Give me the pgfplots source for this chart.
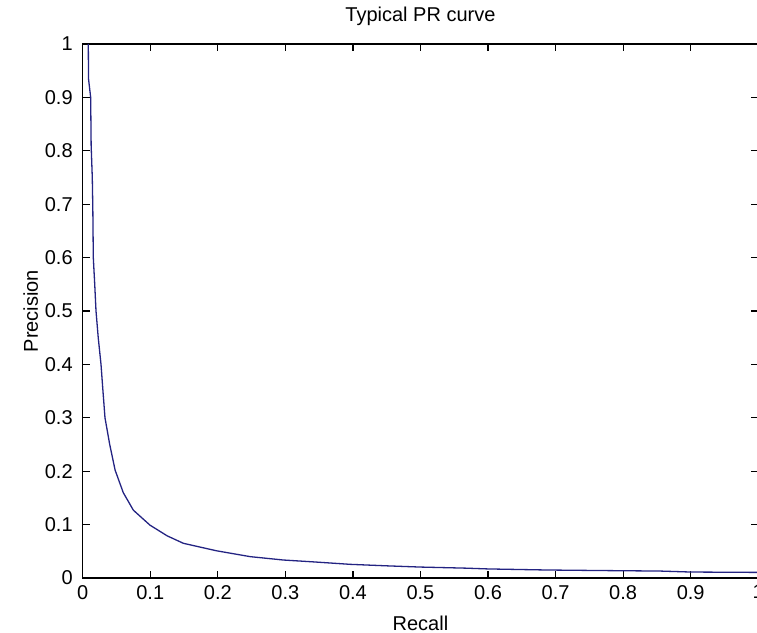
\documentclass[border=0pt]{standalone}
\usepackage{fontspec}
\setmainfont{Liberation Sans}
\usepackage{pgfplots}
\pgfplotsset{compat=1.18}
\usetikzlibrary{calc}
\definecolor{curveblue}{RGB}{35,35,130}
\begin{document}
\fontsize{10}{12}\selectfont
\begin{tikzpicture}
\begin{axis}[
  name=main,
  scale only axis,
  width=337.75pt, height=267pt,
  xmin=0, xmax=1, ymin=0, ymax=1,
  xtick={0,0.1,...,1.0}, ytick={0,0.1,...,1.0},
  tick align=inside,
  major tick length=3.5pt,
  axis line style={line width=0.6pt},
  every tick/.style={black, line width=0.6pt},
  /pgf/number format/assume math mode=true,
  tick label style={font=\fontsize{10}{12}\selectfont},
  label style={font=\fontsize{10}{12}\selectfont},
  yticklabel style={xshift=-1.5pt},
  xlabel={Recall},
  xlabel style={at={(axis description cs:0.5,-0.0974)}, anchor=base, inner sep=0pt},
  ylabel={Precision},
  ylabel style={at={(axis description cs:-0.0662,0.5)}, anchor=base, inner sep=0pt},
  clip=true,
]
\addplot[curveblue, line width=0.65pt] coordinates {
(0.0083,1.0) (0.0086,0.935) (0.0118,0.90) (0.0125,0.81) (0.0142,0.75)
(0.0150,0.69) (0.0157,0.60) (0.0178,0.55) (0.0197,0.50) (0.023,0.45)
(0.0271,0.40) (0.030,0.35) (0.033,0.30) (0.040,0.25) (0.048,0.202)
(0.060,0.16) (0.075,0.127) (0.0996,0.099) (0.125,0.079) (0.149,0.065)
(0.198,0.051) (0.248,0.040) (0.297,0.0337) (0.344,0.030) (0.396,0.0256)
(0.45,0.0228) (0.50,0.0205) (0.566,0.0185) (0.60,0.0170) (0.687,0.0150)
(0.766,0.0140) (0.855,0.0130) (0.90,0.0112) (1.0,0.0105)
};
\end{axis}
\node[anchor=base, inner sep=0pt, font=\fontsize{10}{12}\selectfont] at ($(main.north)+(0,11pt)$) {Typical PR curve};
\pgfresetboundingbox
\path[use as bounding box] ($(main.south west)+(-41.35pt,-27pt)$) rectangle ($(main.north east)+(-0.6pt,22pt)$);
\end{tikzpicture}
\end{document}
